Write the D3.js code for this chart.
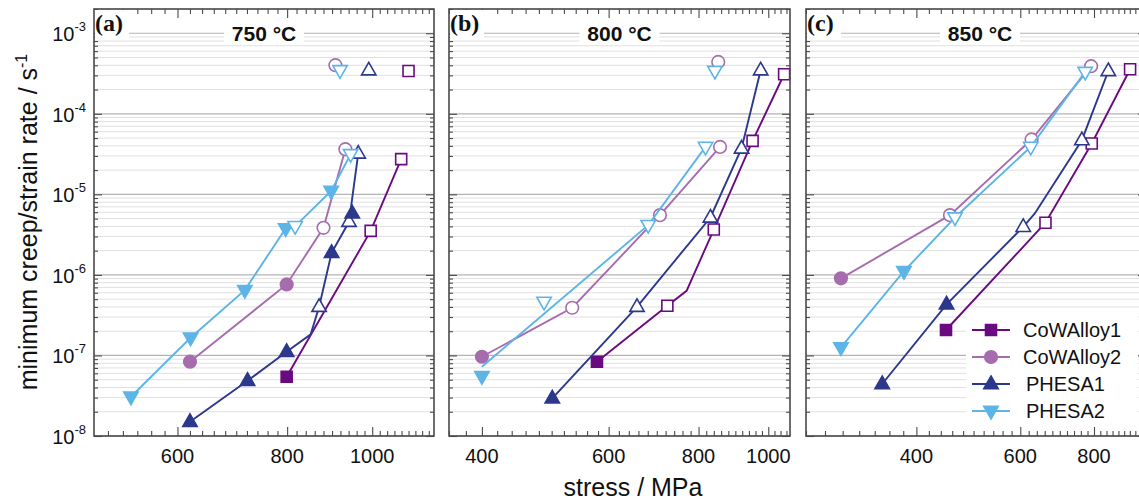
<!DOCTYPE html>
<html>
<head>
<meta charset="utf-8">
<script src="https://cdn.jsdelivr.net/npm/d3@7/dist/d3.min.js"></script>
<style>
  body { margin: 0; background: #fff; }
  svg { display: block; font-family: "Liberation Sans", Arial, sans-serif; }
</style>
</head>
<body>
<svg id="chart"></svg>
<script>
// series info
const seriesNames = ["CoWAlloy1", "CoWAlloy2", "PHESA1", "PHESA2"];
const seriesColors = ["#6b0a80", "#a66cae", "#2c388c", "#5cb5e6"];
const seriesShapes = ["square", "circle", "triUp", "triDown"];

const panelLabels = ["(a)", "(b)", "(c)"];
const panelTitles = ["750 °C", "800 °C", "850 °C"];
const xTicksA = [600, 800, 1000];
const xTicksB = [400, 600, 800, 1000];
const xTicksC = [400, 600, 800];
const yTickExps = [-8, -7, -6, -5, -4, -3];

// [stress MPa, rate 1/s, kind]  f = filled, o = open, n = line only,
// F / O = filled / open marker not joined by the line
const a_CoWAlloy1 = [[799, 5.44e-8, "f"], [996, 3.52e-6, "o"], [1079, 2.74e-5, "o"], [1100, 3.4e-4, "O"]];
const a_CoWAlloy2 = [[620, 8.36e-8, "f"], [799, 7.62e-7, "f"], [880, 3.84e-6, "o"], [932, 3.64e-5, "o"], [908, 4.01e-4, "O"]];
const a_PHESA1 = [[620, 1.5e-8, "f"], [721, 4.85e-8, "f"], [799, 1.11e-7, "f"], [851, 1.83e-7, "n"], [870, 4.02e-7, "o"],
  [899, 1.88e-6, "f"], [941, 4.56e-6, "o"], [949, 5.79e-6, "F"], [964, 3.21e-5, "o"], [991, 3.47e-4, "O"]];
const a_PHESA2 = [[531, 3.07e-8, "f"], [621, 1.66e-7, "f"], [716, 6.47e-7, "f"], [797, 3.78e-6, "f"], [817, 4.03e-6, "o"],
  [898, 1.1e-5, "f"], [945, 3.15e-5, "o"], [919, 3.47e-4, "O"]];

const b_CoWAlloy1 = [[578, 8.36e-8, "f"], [724, 4.14e-7, "o"], [770, 6.35e-7, "n"], [840, 3.66e-6, "o"], [951, 4.61e-5, "o"], [1052, 3.1e-4, "o"]];
const b_CoWAlloy2 = [[400, 9.64e-8, "f"], [534, 3.91e-7, "o"], [707, 5.52e-6, "o"], [857, 3.88e-5, "o"], [852, 4.4e-4, "O"]];
const b_PHESA1 = [[501, 2.94e-8, "f"], [657, 4.02e-7, "o"], [831, 5.16e-6, "o"], [918, 3.71e-5, "o"], [976, 3.47e-4, "o"]];
const b_PHESA2 = [[400, 7.24e-8, "n"], [400, 5.54e-8, "F"], [488, 4.63e-7, "O"], [681, 4.15e-6, "o"], [818, 3.88e-5, "o"], [843, 3.4e-4, "O"]];

const c_CoWAlloy1 = [[449, 2.07e-7, "f"], [662, 4.44e-6, "o"], [793, 4.28e-5, "o"], [921, 3.57e-4, "o"]];
const c_CoWAlloy2 = [[298, 9.06e-7, "f"], [456, 5.52e-6, "o"], [627, 4.8e-5, "o"], [791, 3.9e-4, "o"]];
const c_PHESA1 = [[350, 4.42e-8, "f"], [450, 4.31e-7, "f"], [607, 3.95e-6, "o"], [635, 5.79e-6, "n"], [763, 4.7e-5, "o"], [846, 3.4e-4, "o"]];
const c_PHESA2 = [[298, 1.26e-7, "f"], [381, 1.11e-6, "f"], [465, 5.16e-6, "o"], [625, 3.88e-5, "o"], [773, 3.31e-4, "o"]];

const panelData = [
  [a_CoWAlloy1, a_CoWAlloy2, a_PHESA1, a_PHESA2],
  [b_CoWAlloy1, b_CoWAlloy2, b_PHESA1, b_PHESA2],
  [c_CoWAlloy1, c_CoWAlloy2, c_PHESA1, c_PHESA2]
];
const panelXTicks = [xTicksA, xTicksB, xTicksC];

// layout
const w = 1139, h = 500;
const plotTop = 9, plotBottom = 436;
const panels = [
  {left: 94, right: 434, domain: [482, 1176]},
  {left: 449, right: 790, domain: [360, 1072]},
  {left: 806, right: 1146, domain: [260, 980]}
];
const frameColor = "#4a4a4a";

const svg = d3.select("#chart")
  .attr("width", w)
  .attr("height", h);

const y = d3.scaleLog()
  .domain([1e-8, 2e-3])
  .range([plotBottom, plotTop]);

const yMajor = yTickExps.map(e => Math.pow(10, e));
const yMinor = [];
yTickExps.forEach(e => {
  for (let k = 2; k <= 9; k++) {
    const v = k * Math.pow(10, e);
    if (v <= 2e-3) yMinor.push(v);
  }
});

function markerPath(shape) {
  if (shape === "square") return "M-5.5,-5.5H5.5V5.5H-5.5Z";
  if (shape === "circle") return "M6.3,0A6.3,6.3 0 1,1 -6.3,0A6.3,6.3 0 1,1 6.3,0Z";
  if (shape === "triUp") return "M0,-8L7.2,4.6L-7.2,4.6Z";
  return "M0,8L7.2,-4.6L-7.2,-4.6Z";
}

panels.forEach((p, pi) => {
  const x = d3.scaleLog().domain(p.domain).range([p.left, p.right]);
  const g = svg.append("g");
  const majors = panelXTicks[pi];
  const minors = d3.range(Math.ceil(p.domain[0] / 20) * 20, p.domain[1], 20)
    .filter(v => !majors.includes(v));

  // grid
  g.selectAll(".gminor")
    .data(yMinor)
    .join("line")
    .attr("x1", p.left).attr("x2", p.right)
    .attr("y1", d => y(d)).attr("y2", d => y(d))
    .attr("stroke", "#e0e0e0")
    .attr("stroke-width", 1);
  g.selectAll(".gmajor")
    .data(yMajor)
    .join("line")
    .attr("x1", p.left).attr("x2", p.right)
    .attr("y1", d => y(d)).attr("y2", d => y(d))
    .attr("stroke", "#b4b4b4")
    .attr("stroke-width", 1.2);

  // inward ticks on all four sides
  const tickAxes = [
    [d3.axisRight(y).tickValues(yMajor).tickSize(8), `translate(${p.left},0)`],
    [d3.axisRight(y).tickValues(yMinor).tickSize(4), `translate(${p.left},0)`],
    [d3.axisLeft(y).tickValues(yMajor).tickSize(8), `translate(${p.right},0)`],
    [d3.axisLeft(y).tickValues(yMinor).tickSize(4), `translate(${p.right},0)`],
    [d3.axisTop(x).tickValues(majors).tickSize(9), `translate(0,${plotBottom})`],
    [d3.axisTop(x).tickValues(minors).tickSize(5), `translate(0,${plotBottom})`],
    [d3.axisBottom(x).tickValues(majors).tickSize(9), `translate(0,${plotTop})`],
    [d3.axisBottom(x).tickValues(minors).tickSize(5), `translate(0,${plotTop})`]
  ];
  tickAxes.forEach(([ax, tr]) => {
    g.append("g")
      .attr("transform", tr)
      .call(ax.tickFormat(""))
      .call(s => s.select(".domain").remove())
      .call(s => s.selectAll("line").attr("stroke", frameColor).attr("stroke-width", 1.1));
  });

  // x tick labels
  g.selectAll(".xl")
    .data(majors)
    .join("text")
    .attr("x", d => x(d))
    .attr("y", 463)
    .attr("text-anchor", "middle")
    .attr("font-size", 20)
    .attr("fill", "#111")
    .text(d => d);

  // panel label and title with white boxes
  g.append("rect")
    .attr("x", p.left + 1).attr("y", plotTop + 1)
    .attr("width", 34).attr("height", 28)
    .attr("fill", "#fff");
  g.append("text")
    .attr("x", p.left + 1).attr("y", 31)
    .attr("font-family", "'Liberation Serif', 'Times New Roman', serif")
    .attr("font-weight", "bold")
    .attr("font-size", 24)
    .attr("fill", "#111")
    .text(panelLabels[pi]);
  const titleX = pi === 2 ? 980 : (p.left + p.right) / 2;
  g.append("rect")
    .attr("x", titleX - 40).attr("y", 20)
    .attr("width", 80).attr("height", 25)
    .attr("fill", "#fff");
  g.append("text")
    .attr("x", titleX).attr("y", 41)
    .attr("text-anchor", "middle")
    .attr("font-weight", "bold")
    .attr("font-size", 21)
    .attr("fill", "#111")
    .text(panelTitles[pi]);

  // series
  const line = d3.line().x(d => x(d[0])).y(d => y(d[1]));
  panelData[pi].forEach((pts, si) => {
    const joined = pts.filter(d => "fon".includes(d[2]));
    g.append("path")
      .attr("d", line(joined))
      .attr("fill", "none")
      .attr("stroke", seriesColors[si])
      .attr("stroke-width", 1.9);
    g.selectAll(".m" + si)
      .data(pts.filter(d => d[2] !== "n"))
      .join("path")
      .attr("transform", d => `translate(${x(d[0])},${y(d[1])})`)
      .attr("d", markerPath(seriesShapes[si]))
      .attr("fill", d => (d[2] === "f" || d[2] === "F") ? seriesColors[si] : "#fff")
      .attr("stroke", seriesColors[si])
      .attr("stroke-width", 1.6);
  });

  // frame
  g.append("rect")
    .attr("x", p.left).attr("y", plotTop)
    .attr("width", p.right - p.left).attr("height", plotBottom - plotTop)
    .attr("fill", "none")
    .attr("stroke", frameColor)
    .attr("stroke-width", 1.6);
});

// y tick labels (10^n)
const yl = svg.selectAll(".yl")
  .data(yTickExps)
  .join("text")
  .attr("x", 86)
  .attr("y", d => y(Math.pow(10, d)) + 8)
  .attr("text-anchor", "end")
  .attr("font-size", 20)
  .attr("fill", "#111");
yl.append("tspan").text("10");
yl.append("tspan").attr("font-size", 13).attr("dy", -10).text(d => d);

// axis titles
svg.append("text")
  .attr("transform", "translate(37,222) rotate(-90)")
  .attr("text-anchor", "middle")
  .attr("font-size", 25)
  .attr("fill", "#111")
  .call(t => {
    t.append("tspan").text("minimum creep/strain rate / s");
    t.append("tspan").attr("font-size", 16).attr("dy", -10).text("-1");
  });
svg.append("text")
  .attr("x", 633).attr("y", 496)
  .attr("text-anchor", "middle")
  .attr("font-size", 25)
  .attr("fill", "#111")
  .text("stress / MPa");

// legend
const legend = svg.append("g");
legend.append("rect")
  .attr("x", 966).attr("y", 316)
  .attr("width", 172).attr("height", 106)
  .attr("fill", "#fff");
seriesNames.forEach((name, i) => {
  const ly = 330 + i * 27;
  legend.append("line")
    .attr("x1", 972).attr("x2", 1010)
    .attr("y1", ly).attr("y2", ly)
    .attr("stroke", seriesColors[i])
    .attr("stroke-width", 1.9);
  legend.append("path")
    .attr("transform", `translate(991,${ly})`)
    .attr("d", markerPath(seriesShapes[i]))
    .attr("fill", seriesColors[i])
    .attr("stroke", seriesColors[i])
    .attr("stroke-width", 1.6);
  legend.append("text")
    .attr("x", i < 2 ? 1023 : 1026)
    .attr("y", ly + 7)
    .attr("font-size", 20)
    .attr("fill", "#111")
    .text(name);
});
</script>
</body>
</html>
